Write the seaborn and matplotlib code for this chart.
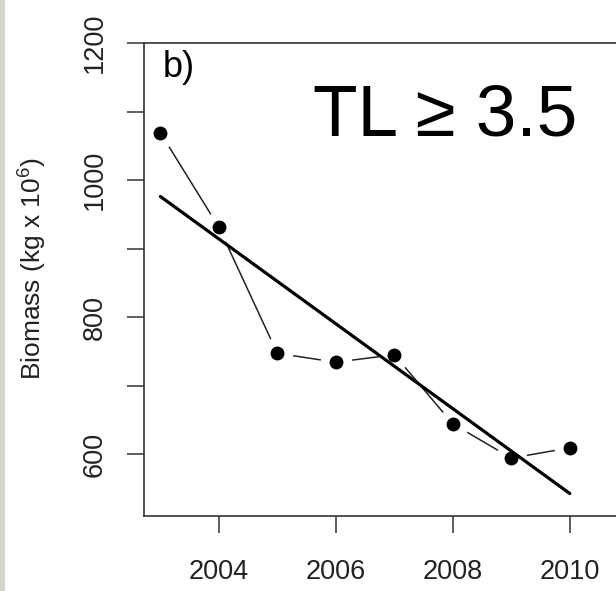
import matplotlib
matplotlib.use("Agg")
import matplotlib.pyplot as plt
from matplotlib.patches import Rectangle
import seaborn as sns
import pandas as pd
import numpy as np

years = [2003, 2004, 2005, 2006, 2007, 2008, 2009, 2010]
biomass = [1069, 931, 747, 734, 745, 644, 594, 609]
y_ticks = [600, 700, 800, 900, 1000, 1100, 1200]
y_tick_labels = ["600", "", "800", "", "1000", "", "1200"]
x_ticks = [2004, 2006, 2008, 2010]
panel_label = "b)"
title_text = "TL \u2265 3.5"
y_label = "Biomass (kg x 10$^{6}$)"

df = pd.DataFrame({"year": years, "biomass": biomass})

sns.set_style("white")
plt.rcParams["font.family"] = ["Liberation Sans", "DejaVu Sans"]
plt.rcParams["mathtext.fontset"] = "custom"
plt.rcParams["mathtext.rm"] = "Liberation Sans"

fig = plt.figure(figsize=(6.16, 5.91), dpi=100)
fig.patch.set_facecolor("white")
fig.patches.append(Rectangle((0, 0), 5 / 616, 1, transform=fig.transFigure,
                             facecolor="#d3d5ce", edgecolor="none", zorder=0))

ax = fig.add_axes([144 / 616, 1 - 516 / 591, 1 - 144 / 616, (516 - 43) / 591])

# connecting line (type "b")
sns.lineplot(data=df, x="year", y="biomass", ax=ax, color="#222222",
             linewidth=1.1, zorder=1)
# white halos to create gaps around points
sns.scatterplot(data=df, x="year", y="biomass", ax=ax, s=520, color="white",
                linewidth=0, zorder=2)
# regression line
sns.regplot(data=df, x="year", y="biomass", ax=ax, scatter=False, ci=None,
            truncate=True, line_kws={"color": "black", "linewidth": 2.3, "zorder": 3})
# points
sns.scatterplot(data=df, x="year", y="biomass", ax=ax, s=100, color="black",
                linewidth=0, zorder=4)

ax.set_xlim(2002.72, 2010.79)
ax.set_ylim(509.5, 1200)
ax.set_xticks(x_ticks)
ax.set_xticklabels([str(t) for t in x_ticks], fontsize=19.5, color="#222222")
ax.set_yticks(y_ticks)
ax.set_yticklabels(y_tick_labels, fontsize=19.5, color="#222222", rotation=90,
                   va="center")
ax.tick_params(axis="both", direction="out", length=12, width=1.1,
               color="#333333", left=True, bottom=True)
ax.tick_params(axis="x", pad=19)
ax.tick_params(axis="y", pad=14)
ax.set_xlabel("")
ax.set_ylabel(y_label, fontsize=19, color="#222222")
ax.yaxis.set_label_coords(-0.203, 0.524)

for side in ["left", "bottom", "top"]:
    ax.spines[side].set_visible(True)
    ax.spines[side].set_color("#333333")
    ax.spines[side].set_linewidth(1.2)
ax.spines["right"].set_visible(False)

fig.text(163 / 616, 1 - 77 / 591, panel_label, fontsize=26, ha="left",
         va="baseline", color="black")
fig.text(313 / 616, 1 - 135 / 591, title_text, fontsize=52.5, ha="left",
         va="baseline", color="black")

fig.savefig("out.png", dpi=100)
